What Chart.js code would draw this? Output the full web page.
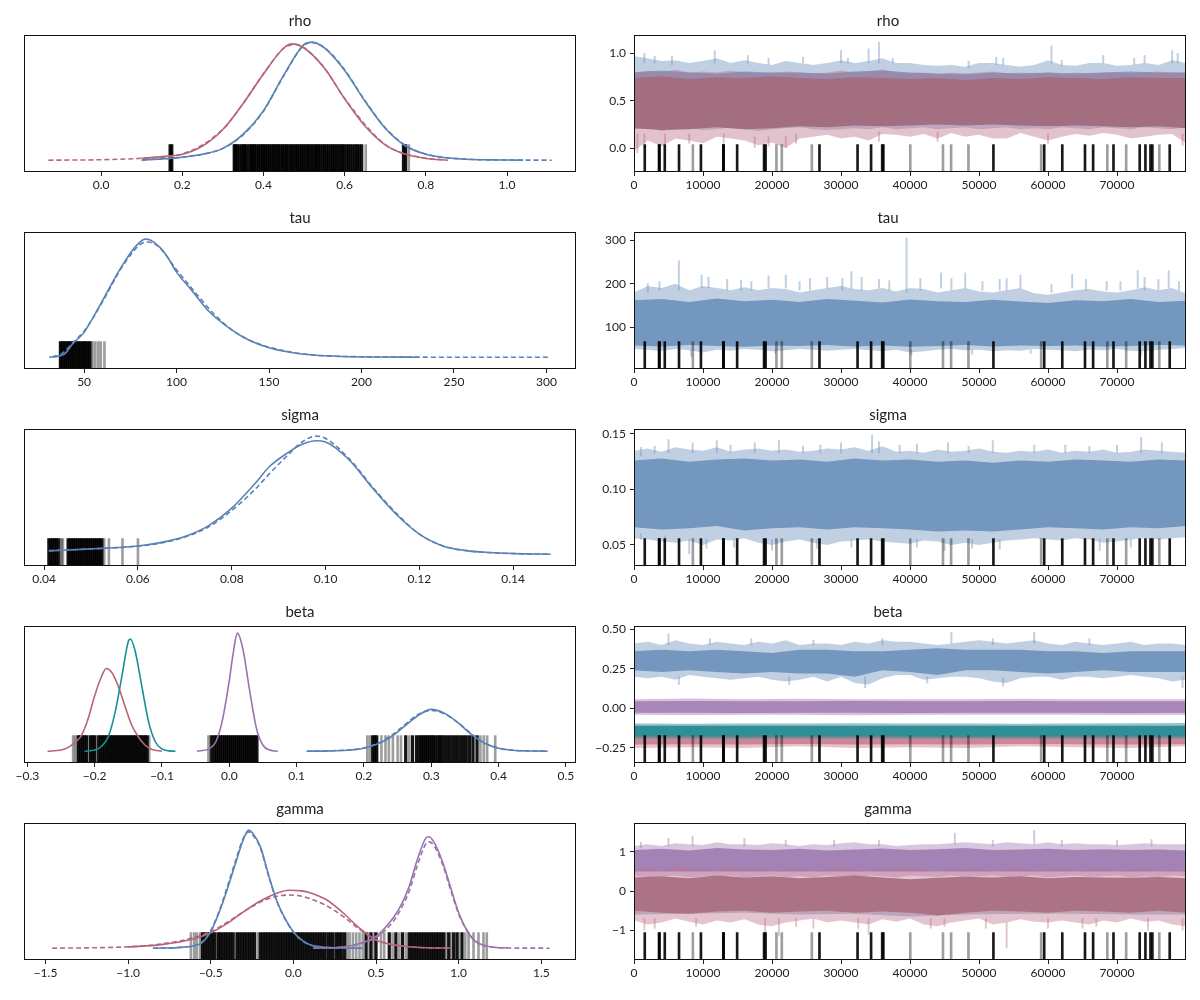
<!DOCTYPE html>
<html>
<head>
<meta charset="utf-8">
<script src="https://cdn.jsdelivr.net/npm/chart.js@4.4.1/dist/chart.umd.min.js"></script>
<style>
  body { margin: 0; background: #fff; }
  #fig { position: relative; width: 1200px; height: 1000px; }
  #fig canvas { position: absolute; }
</style>
</head>
<body>
<div id="fig"></div>
<script>
// ---------- data ----------

// iteration grids for the trace panels
const iterFine = [0,2000,4000,6000,8000,10000,12000,14000,16000,18000,
  20000,22000,24000,26000,28000,30000,32000,34000,36000,38000,
  40000,42000,44000,46000,48000,50000,52000,54000,56000,58000,
  60000,62000,64000,66000,68000,70000,72000,74000,76000,78000,80000];
const iterMid = [0,4000,8000,12000,16000,20000,24000,28000,32000,36000,40000,
  44000,48000,52000,56000,60000,64000,68000,72000,76000,80000];
const iterCoarse = [0,8000,16000,24000,32000,40000,48000,56000,64000,72000,80000];
const iterTicks = [0,10000,20000,30000,40000,50000,60000,70000];

// divergent iterations (rug on the trace panels)
const divDark = [1560,3625,3700,4460,6525,9700,12940,13000,14950,18850,19070,26880,32400,34360,
  35970,36140,52090,59450,62070,65360,66540,69490,73290,74120,74850,75130,77640];
const divLight = [8530,20640,21420,25770,40040,44780,45960,48470,59010,68600,71330,76130];

// ----- rho -----
const rhoBlueX = [0.10,0.15,0.20,0.25,0.30,0.35,0.40,0.45,0.50,0.52,0.55,0.60,0.65,0.70,0.75,0.80,0.85,0.90,0.95,1.00,1.04];
const rhoBlue = [0.0,0.01,0.025,0.05,0.1,0.22,0.42,0.72,0.98,1.0,0.95,0.76,0.5,0.27,0.12,0.05,0.02,0.008,0.003,0.001,0.0];
const rhoBlueDashX = [0.10,0.20,0.30,0.35,0.40,0.45,0.50,0.52,0.55,0.60,0.65,0.70,0.75,0.80,0.90,1.00,1.11];
const rhoBlueDash = [0.002,0.026,0.1,0.215,0.415,0.715,0.975,0.995,0.955,0.765,0.505,0.275,0.125,0.052,0.009,0.002,0.0];
const rhoRedX = [0.1,0.15,0.2,0.25,0.3,0.35,0.4,0.45,0.47,0.5,0.55,0.6,0.65,0.7,0.75,0.8,0.855];
const rhoRed = [0.015,0.03,0.05,0.12,0.26,0.48,0.73,0.95,0.985,0.95,0.78,0.52,0.29,0.13,0.05,0.015,0.0];
const rhoRedDashX = [-0.13,0.0,0.1,0.2,0.3,0.35,0.4,0.45,0.48,0.5,0.55,0.6,0.7,0.8,0.84];
const rhoRedDash = [0.0,0.004,0.016,0.052,0.262,0.482,0.732,0.948,0.98,0.952,0.782,0.522,0.132,0.016,0.005];
const rhoRugDark = [0.170,0.174,
  0.328,0.331,0.335,0.34,0.346,0.35,0.354,0.358,0.366,0.37,0.374,0.378,0.383,0.388,0.392,0.397,
  0.401,0.405,0.41,0.414,0.419,0.424,0.428,0.433,0.437,0.442,0.447,0.451,0.456,0.46,0.466,0.47,
  0.475,0.48,0.484,0.489,0.494,0.498,0.503,0.508,0.512,0.517,0.522,0.527,0.531,0.536,0.54,0.546,
  0.55,0.555,0.56,0.565,0.57,0.574,0.579,0.584,0.589,0.594,0.598,0.604,0.609,0.614,0.62,0.626,
  0.631,0.636,0.642,0.745,0.750];
const rhoRugLight = [0.362,0.652,0.758];

const rhoBlueOuterHi = [0.97,0.95,0.92,0.93,0.90,0.92,0.95,0.90,0.93,0.90,
  0.88,0.92,0.90,0.88,0.90,0.93,0.90,0.92,0.95,0.90,
  0.90,0.88,0.87,0.88,0.86,0.90,0.90,0.88,0.86,0.88,
  0.93,0.88,0.87,0.90,0.90,0.87,0.88,0.90,0.88,0.93,0.90];
const rhoBlueOuterLo = [0.20,0.22,0.18,0.20,0.21,0.19,0.20,0.22,0.20,0.18,
  0.20,0.21,0.22,0.20,0.19,0.20,0.21,0.20,0.22,0.20,
  0.21,0.22,0.20,0.21,0.22,0.20,0.21,0.22,0.20,0.21,
  0.20,0.22,0.21,0.20,0.22,0.21,0.20,0.22,0.21,0.20,0.22];
const rhoBlueCoreHi = [0.80,0.82,0.80,0.79,0.81,0.80,0.80,0.79,0.81,0.82,0.80,
  0.79,0.78,0.80,0.79,0.80,0.79,0.80,0.81,0.80,0.80];
const rhoBlueCoreLo = [0.30,0.30,0.31,0.30,0.30,0.31,0.30,0.30,0.31,0.30,0.30,
  0.31,0.30,0.30,0.31,0.30,0.30,0.31,0.30,0.30,0.30];
const rhoRedOuterHi = [0.80,0.82,0.80,0.83,0.80,0.81,0.80,0.82,0.80,0.79,
  0.80,0.81,0.80,0.79,0.80,0.82,0.80,0.81,0.83,0.80,
  0.79,0.80,0.78,0.80,0.79,0.80,0.81,0.79,0.80,0.79,
  0.80,0.78,0.80,0.79,0.80,0.80,0.79,0.80,0.81,0.80,0.80];
const rhoRedOuterLo = [-0.03,0.08,0.02,0.10,0.08,0.05,0.12,0.10,0.08,0.03,
  0.06,0.00,0.10,0.12,0.14,0.10,0.12,0.08,0.15,0.14,
  0.12,0.15,0.10,0.16,0.12,0.14,0.10,0.10,0.16,0.12,
  0.08,0.12,0.15,0.13,0.16,0.14,0.10,0.12,0.14,0.15,0.05];
const rhoRedCoreHi = [0.74,0.76,0.73,0.75,0.74,0.76,0.74,0.73,0.75,0.74,0.73,
  0.74,0.72,0.74,0.73,0.75,0.74,0.73,0.75,0.74,0.74];
const rhoRedCoreLo = [0.21,0.19,0.20,0.22,0.20,0.21,0.23,0.22,0.24,0.23,0.24,
  0.25,0.24,0.25,0.24,0.23,0.24,0.23,0.22,0.23,0.21];
const rhoBlueSpikes = [[1500,0.9,1.0],[3000,0.9,0.97],[5500,0.88,0.97],[11700,0.9,1.03],[16500,0.9,0.98],
  [19500,0.88,0.95],[24500,0.9,0.96],[30000,0.9,1.03],[31000,0.9,0.95],[34000,0.9,1.05],[35500,0.9,1.12],
  [37500,0.9,0.95],[48500,0.85,0.92],[52500,0.88,0.96],[53500,0.88,0.95],[60500,0.9,1.08],[62000,0.87,0.93],
  [68000,0.9,0.98],[72500,0.88,0.95],[74000,0.9,0.98],[78000,0.9,1.03],[78800,0.9,1.0]];
const rhoRedSpikes = [[500,-0.05,0.15],[1500,0.0,0.15],[4500,0.02,0.15],[8000,0.05,0.15],[13000,0.05,0.15],
  [17500,0.0,0.12],[19500,0.02,0.12],[22000,0.0,0.12],[23500,0.05,0.15],[35500,0.07,0.17],[44000,0.07,0.17],
  [60000,0.05,0.15],[79500,0.03,0.15]];

// ----- tau -----
const tauX = [31,35,38,40,43.6,47,50,55,60,66.6,72.8,78,83,86,91,95,100,108,118,129,139,150,162,174,190,210,230];
const tau = [0.0,0.005,0.017,0.035,0.11,0.16,0.21,0.34,0.48,0.67,0.83,0.94,1.0,0.99,0.93,0.85,0.72,0.57,0.38,0.24,0.145,0.08,0.04,0.018,0.006,0.001,0.0];
const tauDashX = [33,38,45,50,60,70,80,84,90,100,110,120,130,140,150,170,200,250,302];
const tauDash = [0.005,0.03,0.14,0.22,0.47,0.75,0.95,0.975,0.94,0.74,0.55,0.37,0.23,0.14,0.085,0.025,0.004,0.0,0.0];
const tauRugDark = [37.2,38,39,40,41,42,43,44,45,46,47,48,49,50,51,52,53];
const tauRugLight = [53.8,54.5,56,57.6,59,61];

const tauOuterHi = [180,195,190,200,185,195,190,185,192,185,
  190,188,180,185,190,195,188,185,190,182,
  190,188,180,185,190,182,180,185,190,178,
  175,180,185,188,182,180,185,192,185,190,178];
const tauOuterLo = [50,48,45,50,47,42,48,46,50,48,
  45,47,50,48,46,48,50,47,45,48,
  42,45,48,50,47,48,45,47,46,50,
  48,47,45,48,47,50,46,45,48,50,52];
const tauCoreHi = [162,165,158,166,160,163,158,165,161,157,164,160,158,163,159,156,162,160,165,158,161];
const tauCoreLo = [58,56,59,57,55,58,57,59,56,58,55,57,59,56,58,57,58,56,57,59,58];
const tauSpikes = [[6500,185,253],[9800,190,220],[10800,190,215],[13500,185,210],[19500,190,218],
  [22000,190,220],[25500,185,212],[28000,190,215],[31500,190,228],[33000,185,215],[35500,190,210],
  [39500,180,305],[41500,185,212],[44500,190,225],[46000,185,212],[48000,190,225],[54000,185,212],
  [56000,190,220],[63500,190,222],[65500,185,210],[68500,185,205],[73000,190,230],[74000,185,215],
  [77500,190,230],[79000,185,205],[2000,180,200],[3700,185,205],[15500,185,208],[17000,185,205],
  [24000,185,205],[30200,185,212],[37000,185,207],[50500,185,205],[53000,185,210],[60500,180,198],
  [70500,185,205],[76000,185,210],
  [8300,33,48],[19000,38,48],[20500,40,48],[40200,36,48],[49000,38,48],[57500,40,48],[62000,40,48],[73500,36,48]];

// ----- sigma -----
const sigmaX = [0.041,0.05,0.06,0.065,0.07,0.075,0.08,0.085,0.088,0.092,0.095,0.098,0.1,0.105,0.11,0.115,0.12,0.125,0.13,0.135,0.14,0.148];
const sigma = [0.028,0.045,0.07,0.1,0.15,0.24,0.39,0.6,0.74,0.86,0.93,0.96,0.95,0.8,0.56,0.34,0.17,0.07,0.03,0.014,0.006,0.0];
const sigmaDash = [0.03,0.045,0.068,0.095,0.145,0.23,0.37,0.55,0.68,0.84,0.95,1.0,0.98,0.81,0.57,0.35,0.17,0.07,0.03,0.013,0.005,0.0];
const sigmaRugDark = [0.0410,0.0414,0.0418,0.0422,0.0426,0.0430,
  0.0451,0.0455,0.0459,0.0463,0.0467,0.0471,0.0475,0.0479,0.0483,0.0487,0.0491,0.0495,0.0499,
  0.0503,0.0507,0.0511,0.0515,0.0519,0.0523];
const sigmaRugLight = [0.0434,0.0437,0.0440,0.0528,0.0538,0.0567,0.0600];

const sigmaOuterHi = [0.135,0.137,0.134,0.138,0.136,0.135,0.138,0.134,0.136,0.137,
  0.135,0.136,0.134,0.135,0.137,0.136,0.138,0.135,0.139,0.134,
  0.135,0.133,0.136,0.134,0.135,0.137,0.134,0.133,0.135,0.134,
  0.136,0.133,0.135,0.134,0.136,0.133,0.134,0.136,0.135,0.134,0.133];
const sigmaOuterLo = [0.056,0.055,0.053,0.052,0.054,0.050,0.055,0.054,0.056,0.052,
  0.050,0.053,0.055,0.052,0.050,0.053,0.054,0.055,0.053,0.052,
  0.051,0.054,0.053,0.050,0.052,0.050,0.052,0.054,0.055,0.056,
  0.055,0.054,0.056,0.055,0.052,0.053,0.055,0.056,0.055,0.056,0.057];
const sigmaCoreHi = [0.126,0.128,0.125,0.127,0.128,0.126,0.127,0.125,0.128,0.126,0.127,
  0.125,0.126,0.124,0.126,0.125,0.127,0.126,0.125,0.127,0.126];
const sigmaCoreLo = [0.066,0.064,0.065,0.067,0.063,0.065,0.066,0.064,0.066,0.065,0.064,
  0.062,0.063,0.062,0.064,0.066,0.065,0.064,0.066,0.065,0.067];
const sigmaSpikes = [[1000,0.13,0.138],[5000,0.133,0.145],[8500,0.133,0.142],[12000,0.133,0.144],
  [17500,0.133,0.142],[21000,0.133,0.144],[27000,0.133,0.14],[30000,0.133,0.142],[34500,0.133,0.149],
  [35500,0.133,0.143],[41000,0.133,0.141],[45500,0.133,0.142],[52000,0.133,0.144],[58000,0.133,0.14],
  [62500,0.133,0.14],[73500,0.133,0.147],[76500,0.133,0.142],[3000,0.133,0.139],[14000,0.133,0.14],
  [24500,0.133,0.139],[38500,0.133,0.14],[48500,0.133,0.139],[66000,0.133,0.139],[70000,0.133,0.14],
  [1000,0.055,0.06],[4500,0.05,0.058],[8000,0.042,0.055],[10500,0.047,0.055],[14500,0.048,0.055],
  [20000,0.045,0.055],[26500,0.047,0.055],[31500,0.048,0.055],[41000,0.048,0.055],[45000,0.045,0.055],
  [49000,0.047,0.055],[53000,0.046,0.055],[62000,0.048,0.055],[67500,0.045,0.055],[72000,0.048,0.055]];

// ----- beta -----
const betaRedX = [-0.27,-0.25,-0.24,-0.23,-0.22,-0.21,-0.2,-0.19,-0.183,-0.175,-0.165,-0.155,-0.145,-0.135,-0.125,-0.115,-0.1];
const betaRed = [0.0,0.01,0.03,0.07,0.13,0.27,0.47,0.63,0.70,0.67,0.55,0.38,0.22,0.12,0.05,0.015,0.0];
const betaTealX = [-0.215,-0.2,-0.19,-0.18,-0.17,-0.16,-0.15,-0.147,-0.14,-0.13,-0.12,-0.11,-0.1,-0.09,-0.08];
const betaTeal = [0.0,0.01,0.04,0.12,0.32,0.62,0.93,0.95,0.85,0.55,0.25,0.08,0.02,0.003,0.0];
const betaPurpleX = [-0.048,-0.03,-0.02,-0.01,0.0,0.005,0.012,0.02,0.03,0.04,0.05,0.06,0.072];
const betaPurple = [0.0,0.02,0.08,0.27,0.6,0.8,1.0,0.87,0.52,0.2,0.05,0.01,0.0];
const betaBlueX = [0.115,0.15,0.18,0.2,0.22,0.24,0.26,0.28,0.3,0.32,0.34,0.36,0.38,0.4,0.42,0.45,0.473];
const betaBlue = [0.0,0.003,0.01,0.025,0.06,0.12,0.21,0.3,0.354,0.32,0.24,0.14,0.065,0.025,0.008,0.002,0.0];
const betaBlueDash = [0.0,0.003,0.012,0.028,0.065,0.13,0.22,0.31,0.345,0.315,0.24,0.145,0.068,0.026,0.009,0.002,0.0];
const betaRugDark = [-0.224,-0.221,-0.218,-0.215,-0.212,-0.206,-0.203,-0.2,-0.194,-0.191,-0.188,-0.185,
  -0.182,-0.179,-0.176,-0.173,-0.17,-0.167,-0.164,-0.161,-0.158,-0.155,-0.152,-0.149,-0.146,-0.143,
  -0.14,-0.137,-0.134,-0.131,-0.128,-0.125,-0.122,
  -0.026,-0.022,-0.019,-0.016,-0.013,-0.01,-0.007,-0.004,-0.001,0.002,0.005,0.008,0.011,0.014,0.017,
  0.02,0.023,0.026,0.029,0.032,0.035,0.038,0.041,
  0.213,0.216,0.219,0.262,0.272,0.278,0.282,0.285,0.288,0.291,0.294,0.297,0.3,0.303,0.306,0.31,
  0.313,0.316,0.32,0.324,0.328,0.332,0.336,0.34,0.344,0.348,0.352,0.357,0.362,0.368];
const betaRugLight = [-0.232,-0.229,-0.226,-0.209,-0.197,-0.119,-0.031,-0.028,
  0.205,0.209,0.226,0.232,0.237,0.243,0.25,0.255,0.267,0.373,0.378,0.383,0.395];

const betaBlueOuterHi = [0.41,0.42,0.40,0.43,0.41,0.40,0.42,0.41,0.40,0.42,
  0.41,0.43,0.40,0.41,0.41,0.40,0.42,0.41,0.43,0.42,
  0.42,0.41,0.40,0.41,0.42,0.43,0.42,0.41,0.42,0.43,
  0.41,0.40,0.42,0.41,0.40,0.41,0.42,0.40,0.41,0.41,0.40];
const betaBlueOuterLo = [0.20,0.19,0.20,0.18,0.21,0.20,0.19,0.18,0.19,0.20,
  0.18,0.17,0.18,0.20,0.17,0.20,0.16,0.15,0.19,0.21,
  0.21,0.18,0.19,0.20,0.20,0.19,0.17,0.16,0.19,0.20,
  0.20,0.18,0.20,0.20,0.19,0.20,0.21,0.20,0.19,0.17,0.18];
const betaBlueCoreHi = [0.36,0.37,0.36,0.37,0.36,0.35,0.37,0.37,0.36,0.36,0.37,0.38,0.37,0.37,0.37,0.36,0.36,0.35,0.36,0.36,0.36];
const betaBlueCoreLo = [0.24,0.23,0.24,0.23,0.22,0.23,0.22,0.22,0.20,0.24,0.23,0.21,0.24,0.24,0.23,0.22,0.23,0.24,0.23,0.23,0.23];
const betaBlueSpikes = [[5000,0.4,0.47],[11000,0.4,0.44],[17000,0.4,0.44],[26000,0.4,0.43],[36000,0.4,0.44],
  [46000,0.41,0.48],[52000,0.4,0.44],[58000,0.41,0.48],[66000,0.4,0.44],
  [79500,0.13,0.2],[22500,0.15,0.2],[33500,0.13,0.2],[53500,0.14,0.19],[6500,0.15,0.2],[42500,0.16,0.2]];
const betaPurpleOuterHi = [0.058,0.062,0.057,0.06,0.058,0.058,0.057,0.06,0.058,0.057,0.058];
const betaPurpleOuterLo = [-0.04,-0.042,-0.04,-0.041,-0.043,-0.04,-0.041,-0.04,-0.04,-0.042,-0.04];
const betaPurpleCoreHi = [0.045,0.046,0.045,0.045,0.046,0.045,0.045,0.046,0.045,0.045,0.045];
const betaPurpleCoreLo = [-0.028,-0.028,-0.029,-0.028,-0.028,-0.029,-0.028,-0.028,-0.028,-0.029,-0.028];
const betaTealOuterHi = [-0.095,-0.097,-0.095,-0.096,-0.094,-0.096,-0.095,-0.097,-0.095,-0.094,-0.093];
const betaTealOuterLo = [-0.19,-0.19,-0.192,-0.19,-0.19,-0.191,-0.19,-0.19,-0.192,-0.19,-0.19];
const betaTealCoreHi = [-0.11,-0.11,-0.11,-0.11,-0.11,-0.11,-0.11,-0.11,-0.11,-0.11,-0.11];
const betaTealCoreLo = [-0.178,-0.178,-0.179,-0.178,-0.178,-0.178,-0.179,-0.178,-0.178,-0.178,-0.178];
const betaRedOuterHi = [-0.15,-0.15,-0.15,-0.15,-0.15,-0.15,-0.15,-0.15,-0.15,-0.15,-0.15];
const betaRedOuterLo = [-0.25,-0.245,-0.25,-0.24,-0.25,-0.245,-0.25,-0.24,-0.245,-0.25,-0.24];
const betaRedCoreHi = [-0.16,-0.16,-0.16,-0.16,-0.16,-0.16,-0.16,-0.16,-0.16,-0.16,-0.16];
const betaRedCoreLo = [-0.228,-0.226,-0.228,-0.225,-0.228,-0.226,-0.228,-0.225,-0.227,-0.228,-0.226];

// ----- gamma -----
const gammaBlueX = [-0.85,-0.7,-0.6,-0.55,-0.5,-0.45,-0.4,-0.35,-0.3,-0.27,-0.25,-0.2,-0.15,-0.1,-0.05,0.0,0.05,0.1,0.2,0.3,0.42];
const gammaBlue = [0.0,0.005,0.02,0.05,0.14,0.3,0.5,0.72,0.93,1.0,0.98,0.86,0.62,0.4,0.25,0.14,0.07,0.03,0.008,0.002,0.0];
const gammaBlueDash = [0.0,0.006,0.022,0.055,0.15,0.31,0.52,0.74,0.94,0.985,0.965,0.85,0.61,0.395,0.245,0.135,0.066,0.028,0.008,0.002,0.0];
const gammaRedX = [-1.0,-0.8,-0.6,-0.5,-0.4,-0.3,-0.2,-0.1,-0.03,0.05,0.1,0.2,0.3,0.4,0.5,0.6,0.7,0.8,0.96];
const gammaRed = [0.01,0.03,0.08,0.13,0.21,0.31,0.4,0.465,0.49,0.485,0.47,0.41,0.3,0.17,0.07,0.03,0.012,0.004,0.0];
const gammaRedDashX = [-1.46,-1.2,-1.0,-0.8,-0.6,-0.5,-0.4,-0.3,-0.2,-0.1,-0.03,0.05,0.1,0.2,0.3,0.4,0.5,0.6,0.7,0.8,0.96];
const gammaRedDash = [0.0,0.004,0.012,0.035,0.09,0.14,0.22,0.31,0.39,0.44,0.45,0.44,0.42,0.36,0.27,0.16,0.07,0.03,0.012,0.004,0.0];
const gammaPurpleX = [0.12,0.3,0.4,0.5,0.6,0.65,0.7,0.75,0.8,0.82,0.85,0.9,0.95,1.0,1.05,1.1,1.2,1.3];
const gammaPurple = [0.0,0.01,0.04,0.1,0.25,0.36,0.52,0.75,0.93,0.944,0.9,0.74,0.52,0.3,0.15,0.06,0.01,0.002];
const gammaPurpleDashX = [0.12,0.3,0.4,0.5,0.6,0.65,0.7,0.75,0.8,0.82,0.85,0.9,0.95,1.0,1.05,1.1,1.2,1.3,1.55];
const gammaPurpleDash = [0.0,0.008,0.035,0.09,0.22,0.33,0.48,0.7,0.88,0.9,0.87,0.72,0.5,0.29,0.15,0.06,0.01,0.002,0.0];
const gammaRugDark = [-0.55,-0.535,-0.52,-0.505,-0.49,-0.475,-0.455,-0.44,-0.425,-0.41,-0.395,-0.38,-0.365,
  -0.34,-0.325,-0.31,-0.295,-0.28,-0.265,-0.25,-0.235,-0.2,-0.185,-0.17,-0.155,-0.14,-0.125,-0.11,-0.095,
  -0.08,-0.065,-0.05,-0.035,-0.02,-0.005,0.01,0.025,0.04,0.055,0.07,0.085,0.1,0.115,0.13,0.145,0.16,0.175,
  0.19,0.21,0.225,0.24,0.26,0.275,0.29,0.31,0.44,0.47,0.5,0.58,0.62,0.66,0.7,0.715,0.73,0.745,0.76,0.775,
  0.79,0.805,0.82,0.835,0.85,0.865,0.88,0.895,0.91,0.94,0.97,0.99,1.02];
const gammaRugLight = [-0.62,-0.6,-0.585,-0.565,-0.45,-0.35,-0.215,0.2,0.325,0.34,0.36,0.38,0.4,0.42,0.46,
  0.49,0.53,0.55,0.6,0.64,0.68,0.925,0.955,1.0,1.04,1.06,1.09,1.12,1.15,1.17];

const gammaBlueOuterHi = [0.2,0.2,0.2,0.2,0.2,0.2,0.2,0.2,0.2,0.2,0.2];
const gammaBlueOuterLo = [-0.6,-0.58,-0.55,-0.6,-0.58,-0.65,-0.6,-0.58,-0.58,-0.6,-0.6];
const gammaBlueCoreHi = [0.0,0.0,0.0,0.0,0.0,0.0,0.0,0.0,0.0,0.0,0.0];
const gammaBlueCoreLo = [-0.45,-0.45,-0.44,-0.46,-0.45,-0.5,-0.46,-0.45,-0.45,-0.46,-0.45];
const gammaPurpleOuterHi = [1.15,1.20,1.15,1.22,1.20,1.18,1.25,1.20,1.20,1.18,
  1.22,1.20,1.15,1.20,1.18,1.22,1.25,1.20,1.20,1.15,
  1.18,1.20,1.20,1.22,1.25,1.22,1.20,1.25,1.22,1.20,
  1.25,1.20,1.22,1.20,1.20,1.18,1.20,1.22,1.20,1.20,1.20];
const gammaPurpleOuterLo = [0.40,0.35,0.38,0.40,0.35,0.38,0.36,0.40,0.35,0.38,
  0.40,0.36,0.38,0.35,0.40,0.38,0.36,0.40,0.38,0.35,
  0.40,0.38,0.36,0.40,0.35,0.38,0.40,0.36,0.38,0.40,
  0.35,0.38,0.40,0.36,0.38,0.40,0.35,0.38,0.36,0.40,0.38];
const gammaPurpleCoreHi = [1.05,1.08,1.04,1.10,1.06,1.05,1.08,1.04,1.06,1.09,1.05,
  1.07,1.10,1.05,1.06,1.08,1.05,1.07,1.05,1.06,1.04];
const gammaPurpleCoreLo = [0.50,0.50,0.50,0.50,0.50,0.50,0.50,0.50,0.50,0.50,0.50,
  0.50,0.50,0.50,0.50,0.50,0.50,0.50,0.50,0.50,0.50];
const gammaPurpleSpikes = [[1000,1.1,1.25],[5000,1.15,1.35],[8500,1.15,1.4],[16000,1.15,1.35],[22000,1.15,1.3],
  [29000,1.15,1.3],[35500,1.15,1.3],[46500,1.2,1.48],[52000,1.15,1.3],[58000,1.2,1.55],[62000,1.15,1.3],
  [70000,1.15,1.3],[75000,1.15,1.32]];
const gammaRedOuterHi = [0.55,0.60,0.50,0.65,0.55,0.60,0.50,0.62,0.55,0.60,
  0.50,0.55,0.60,0.50,0.58,0.62,0.55,0.50,0.60,0.55,
  0.62,0.55,0.50,0.58,0.55,0.60,0.50,0.55,0.60,0.52,
  0.55,0.60,0.50,0.55,0.60,0.50,0.55,0.58,0.50,0.55,0.50];
const gammaRedOuterLo = [-0.75,-0.85,-0.80,-0.70,-0.78,-0.85,-0.75,-0.80,-0.72,-0.85,
  -0.90,-0.80,-0.75,-0.70,-0.80,-0.75,-0.80,-0.85,-0.72,-0.78,
  -0.70,-0.85,-0.90,-0.80,-0.75,-0.70,-0.85,-0.80,-0.72,-0.78,
  -0.80,-0.75,-0.80,-0.85,-0.75,-0.80,-0.70,-0.78,-0.75,-0.85,-0.90];
const gammaRedCoreHi = [0.35,0.38,0.33,0.40,0.35,0.38,0.33,0.36,0.40,0.35,0.30,
  0.34,0.37,0.35,0.38,0.33,0.36,0.35,0.34,0.36,0.33];
const gammaRedCoreLo = [-0.50,-0.55,-0.58,-0.52,-0.50,-0.55,-0.52,-0.50,-0.55,-0.52,-0.55,
  -0.62,-0.55,-0.50,-0.52,-0.55,-0.50,-0.52,-0.55,-0.50,-0.55];
const gammaRedSpikes = [[1500,-1.0,-0.7],[3000,-0.95,-0.7],[9000,-0.9,-0.7],[19000,-1.05,-0.7],[21000,-1.15,-0.7],
  [23500,-0.9,-0.7],[26000,-0.95,-0.7],[32500,-0.95,-0.7],[34000,-1.1,-0.7],[43000,-0.95,-0.7],[45000,-0.9,-0.7],
  [51000,-0.95,-0.7],[54000,-1.45,-0.8],[60000,-0.95,-0.7],[65000,-0.95,-0.7],[67000,-0.9,-0.7],[74500,-1.0,-0.7],
  [79500,-1.0,-0.7]];

// ---------- styling ----------
const FONT = "Lato, 'DejaVu Sans', sans-serif";
const BLUE = "#5b82b6", RED = "#b56679", TEAL = "#168f99", PURPLE = "#9a72ad";
const DASH = [5, 3];
const RUG_DARK = "rgba(0,0,0,0.92)", RUG_LIGHT = "rgba(0,0,0,0.38)";
const DIV_DARK = "rgba(0,0,0,0.9)", DIV_LIGHT = "rgba(0,0,0,0.38)";

// helpers
function pts(xs, ys) { return xs.map((x, i) => ({ x: x, y: ys[i] })); }

function kde(xs, ys, color, dash) {
  return { type: "line", data: pts(xs, ys), borderColor: color, borderWidth: 1.6,
    borderDash: dash || [], pointRadius: 0, fill: false, cubicInterpolationMode: "monotone" };
}

function band(xs, hi, lo, color) {
  return [
    { type: "line", data: pts(xs, hi), borderColor: "transparent", borderWidth: 0, pointRadius: 0, fill: false },
    { type: "line", data: pts(xs, lo), borderColor: "transparent", borderWidth: 0, pointRadius: 0,
      fill: "-1", backgroundColor: color }
  ];
}

function spikes(list, color) {
  return { type: "bar", data: list.map(s => ({ x: s[0], y: [s[1], s[2]] })),
    backgroundColor: color, barThickness: 1.3, grouped: false };
}

function rug(xs, lo, hi, color, w) {
  return { type: "bar", data: xs.map(x => ({ x: x, y: [lo, hi] })),
    backgroundColor: color, barThickness: w || 2, grouped: false };
}

function fmt(v, dec) { return Number(v).toFixed(dec).replace("-", "\u2212"); }

function axis(min, max, ticks, dec, dir) {
  return {
    type: "linear", min: min, max: max, offset: false,
    afterBuildTicks: s => { s.ticks = ticks.map(v => ({ value: v })); },
    afterFit: s => { if (dir === "x") s.height = 25; else s.width = 44; },
    ticks: { autoSkip: false, maxRotation: 0, padding: dir === "x" ? 2 : 4, color: "#222",
      font: { family: FONT, size: 12 }, callback: v => fmt(v, dec) },
    grid: { display: true, offset: false, drawOnChartArea: false, drawTicks: true, tickLength: 4, color: "#222" },
    border: { display: false }
  };
}

// full frame round each axes box, like matplotlib
const boxPlugin = {
  id: "box",
  afterDraw(chart) {
    const a = chart.chartArea, c = chart.ctx;
    c.save();
    c.strokeStyle = "#111";
    c.lineWidth = 1;
    c.strokeRect(Math.round(a.left) + 0.5, Math.round(a.top) + 0.5,
      Math.round(a.right - a.left) - 1, Math.round(a.bottom - a.top) - 1);
    c.restore();
  }
};

const fig = document.getElementById("fig");

function makePanel(p) {
  const cv = document.createElement("canvas");
  // right column canvas starts a little early so "−0.25" is not cut
  cv.width = p.col === 0 ? 600 : 610;
  cv.height = 197;
  cv.style.left = (p.col === 0 ? 0 : 590) + "px";
  cv.style.top = p.row * 197 + "px";
  fig.appendChild(cv);

  // layers are listed bottom to top
  const list = p.layers;
  list.forEach((d, i) => { d.order = list.length - i; });

  new Chart(cv, {
    type: "line",
    data: { datasets: list },
    options: {
      responsive: false,
      animation: false,
      events: [],
      layout: { padding: p.col === 0 ? { left: 24, right: 24 } : { left: 0, right: 14 } },
      plugins: {
        legend: { display: false },
        tooltip: { enabled: false },
        title: { display: true, text: p.title, color: "#222",
          font: { family: FONT, size: 15, weight: "normal" }, padding: { top: 12, bottom: 5 } }
      },
      scales: {
        x: axis(p.xMin, p.xMax, p.xTicks, p.xDec, "x"),
        y: p.col === 0
          ? { type: "linear", display: false, min: p.yMin, max: p.yMax }
          : axis(p.yMin, p.yMax, p.yTicks, p.yDec, "y")
      }
    },
    plugins: [boxPlugin]
  });
}

// left column: density panels
const KY0 = -0.1, KY1 = 1.06;
const KR = KY0 + 0.2 * (KY1 - KY0);

function densityPanel(row, title, xMin, xMax, xTicks, xDec, rugDark, rugLight, curves) {
  makePanel({ row, col: 0, title, xMin, xMax, xTicks, xDec, yMin: KY0, yMax: KY1,
    layers: [rug(rugLight, KY0, KR, RUG_LIGHT), rug(rugDark, KY0, KR, RUG_DARK, 2.6)].concat(curves) });
}

densityPanel(0, "rho", -0.19, 1.17, [0, 0.2, 0.4, 0.6, 0.8, 1.0], 1, rhoRugDark, rhoRugLight, [
  kde(rhoBlueDashX, rhoBlueDash, BLUE, DASH), kde(rhoBlueX, rhoBlue, BLUE),
  kde(rhoRedDashX, rhoRedDash, RED, DASH), kde(rhoRedX, rhoRed, RED)
]);
densityPanel(1, "tau", 17.5, 316, [50, 100, 150, 200, 250, 300], 0, tauRugDark, tauRugLight, [
  kde(tauDashX, tauDash, BLUE, DASH), kde(tauX, tau, BLUE)
]);
densityPanel(2, "sigma", 0.0357, 0.1534, [0.04, 0.06, 0.08, 0.10, 0.12, 0.14], 2, sigmaRugDark, sigmaRugLight, [
  kde(sigmaX, sigmaDash, BLUE, DASH), kde(sigmaX, sigma, BLUE)
]);
densityPanel(3, "beta", -0.305, 0.515, [-0.3, -0.2, -0.1, 0, 0.1, 0.2, 0.3, 0.4, 0.5], 1, betaRugDark, betaRugLight, [
  kde(betaBlueX, betaBlueDash, BLUE, DASH), kde(betaBlueX, betaBlue, BLUE),
  kde(betaRedX, betaRed, RED), kde(betaTealX, betaTeal, TEAL), kde(betaPurpleX, betaPurple, PURPLE)
]);
densityPanel(4, "gamma", -1.63, 1.71, [-1.5, -1.0, -0.5, 0, 0.5, 1.0, 1.5], 1, gammaRugDark, gammaRugLight, [
  kde(gammaRedDashX, gammaRedDash, RED, DASH), kde(gammaRedX, gammaRed, RED),
  kde(gammaBlueX, gammaBlueDash, BLUE, DASH), kde(gammaBlueX, gammaBlue, BLUE),
  kde(gammaPurpleDashX, gammaPurpleDash, PURPLE, DASH), kde(gammaPurpleX, gammaPurple, PURPLE)
]);

// right column: trace panels
function tracePanel(row, title, yMin, yMax, yTicks, yDec, layers) {
  const rTop = yMin + 0.2 * (yMax - yMin);
  makePanel({ row, col: 1, title, xMin: 0, xMax: 80000, xTicks: iterTicks, xDec: 0,
    yMin, yMax, yTicks, yDec,
    layers: layers.concat([rug(divLight, yMin, rTop, DIV_LIGHT), rug(divDark, yMin, rTop, DIV_DARK)]) });
}

const blueCore = "#7397bf", blueLight = "rgba(115,151,191,0.45)";

tracePanel(0, "rho", -0.253, 1.196, [0, 0.5, 1.0], 1, [].concat(
  band(iterFine, rhoBlueOuterHi, rhoBlueOuterLo, blueLight),
  [spikes(rhoBlueSpikes, blueLight)],
  band(iterMid, rhoBlueCoreHi, rhoBlueCoreLo, "#819fc7"),
  band(iterFine, rhoRedOuterHi, rhoRedOuterLo, "rgba(185,110,135,0.42)"),
  [spikes(rhoRedSpikes, "rgba(185,110,135,0.42)")],
  band(iterMid, rhoRedCoreHi, rhoRedCoreLo, "#a26e80")
));
tracePanel(1, "tau", 4, 319, [100, 200, 300], 0, [].concat(
  band(iterFine, tauOuterHi, tauOuterLo, blueLight),
  [spikes(tauSpikes, blueLight)],
  band(iterMid, tauCoreHi, tauCoreLo, blueCore)
));
tracePanel(2, "sigma", 0.031, 0.1545, [0.05, 0.10, 0.15], 2, [].concat(
  band(iterFine, sigmaOuterHi, sigmaOuterLo, blueLight),
  [spikes(sigmaSpikes, blueLight)],
  band(iterMid, sigmaCoreHi, sigmaCoreLo, blueCore)
));
tracePanel(3, "beta", -0.345, 0.52, [-0.25, 0, 0.25, 0.5], 2, [].concat(
  band(iterFine, betaBlueOuterHi, betaBlueOuterLo, blueLight),
  [spikes(betaBlueSpikes, blueLight)],
  band(iterMid, betaBlueCoreHi, betaBlueCoreLo, blueCore),
  band(iterCoarse, betaPurpleOuterHi, betaPurpleOuterLo, "rgba(168,134,184,0.5)"),
  band(iterCoarse, betaPurpleCoreHi, betaPurpleCoreLo, "#a886b8"),
  band(iterCoarse, betaRedOuterHi, betaRedOuterLo, "rgba(200,120,140,0.45)"),
  band(iterCoarse, betaRedCoreHi, betaRedCoreLo, "#cd8695"),
  band(iterCoarse, betaTealOuterHi, betaTealOuterLo, "rgba(40,140,150,0.5)"),
  band(iterCoarse, betaTealCoreHi, betaTealCoreLo, "#2f8e97")
));
tracePanel(4, "gamma", -1.76, 1.74, [-1, 0, 1], 0, [].concat(
  band(iterCoarse, gammaBlueOuterHi, gammaBlueOuterLo, "rgba(111,148,192,0.5)"),
  band(iterCoarse, gammaBlueCoreHi, gammaBlueCoreLo, "#7a9ac4"),
  band(iterFine, gammaPurpleOuterHi, gammaPurpleOuterLo, "rgba(163,131,181,0.45)"),
  [spikes(gammaPurpleSpikes, "rgba(163,131,181,0.45)")],
  band(iterMid, gammaPurpleCoreHi, gammaPurpleCoreLo, "#a383b5"),
  band(iterFine, gammaRedOuterHi, gammaRedOuterLo, "rgba(190,115,138,0.42)"),
  [spikes(gammaRedSpikes, "rgba(190,115,138,0.42)")],
  band(iterMid, gammaRedCoreHi, gammaRedCoreLo, "#ac7387")
));
</script>
</body>
</html>
